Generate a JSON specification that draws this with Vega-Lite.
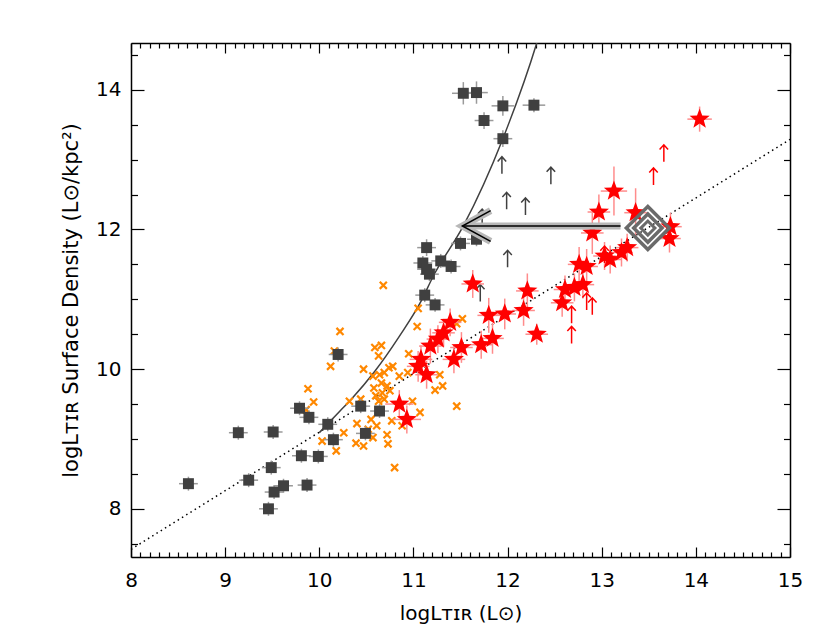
{
  "$schema": "https://vega.github.io/schema/vega-lite/v6.json",
  "autosize": {"type": "none"},
  "padding": {"left": 131, "top": 43, "right": 40, "bottom": 85},
  "width": 659,
  "height": 514,
  "background": "white",
  "config": {
    "view": {"stroke": null},
    "font": "DejaVu Sans",
    "axis": {"domainColor": "black", "domainWidth": 1.5, "tickColor": "black", "tickWidth": 1.2, "grid": false, "labelFont": "DejaVu Sans", "labelFontSize": 20, "labelColor": "black", "labelFontWeight": "normal", "titleFont": "DejaVu Sans", "titleFontSize": 20, "titleFontWeight": "normal", "titleColor": "black", "labelOverlap": false, "labelFlush": false}
  },
  "datasets": {
    "squares": [
      {"x": 8.61, "y": 8.36, "ex": 0.1, "ey": 0.1},
      {"x": 9.14, "y": 9.09, "ex": 0.1, "ey": 0.1},
      {"x": 9.51, "y": 9.10, "ex": 0.1, "ey": 0.1},
      {"x": 9.25, "y": 8.41, "ex": 0.1, "ey": 0.1},
      {"x": 9.49, "y": 8.59, "ex": 0.1, "ey": 0.1},
      {"x": 9.52, "y": 8.24, "ex": 0.1, "ey": 0.1},
      {"x": 9.62, "y": 8.33, "ex": 0.1, "ey": 0.1},
      {"x": 9.46, "y": 8.00, "ex": 0.1, "ey": 0.1},
      {"x": 9.87, "y": 8.34, "ex": 0.1, "ey": 0.1},
      {"x": 9.81, "y": 8.76, "ex": 0.1, "ey": 0.1},
      {"x": 9.99, "y": 8.75, "ex": 0.1, "ey": 0.1},
      {"x": 9.79, "y": 9.44, "ex": 0.1, "ey": 0.1},
      {"x": 9.89, "y": 9.31, "ex": 0.1, "ey": 0.1},
      {"x": 10.09, "y": 9.21, "ex": 0.1, "ey": 0.1},
      {"x": 10.15, "y": 8.99, "ex": 0.1, "ey": 0.1},
      {"x": 10.20, "y": 10.21, "ex": 0.1, "ey": 0.1},
      {"x": 10.44, "y": 9.47, "ex": 0.1, "ey": 0.1},
      {"x": 10.64, "y": 9.40, "ex": 0.1, "ey": 0.1},
      {"x": 10.49, "y": 9.08, "ex": 0.1, "ey": 0.1},
      {"x": 11.12, "y": 11.06, "ex": 0.1, "ey": 0.1},
      {"x": 11.23, "y": 10.92, "ex": 0.1, "ey": 0.1},
      {"x": 11.53, "y": 13.95, "ex": 0.12, "ey": 0.16},
      {"x": 11.67, "y": 13.96, "ex": 0.12, "ey": 0.16},
      {"x": 11.95, "y": 13.77, "ex": 0.12, "ey": 0.14},
      {"x": 12.28, "y": 13.78, "ex": 0.12, "ey": 0.1},
      {"x": 11.75, "y": 13.56, "ex": 0.1, "ey": 0.12},
      {"x": 11.95, "y": 13.30, "ex": 0.1, "ey": 0.12},
      {"x": 11.50, "y": 11.80, "ex": 0.1, "ey": 0.1},
      {"x": 11.67, "y": 11.86, "ex": 0.1, "ey": 0.1},
      {"x": 11.14, "y": 11.74, "ex": 0.1, "ey": 0.12},
      {"x": 11.29, "y": 11.55, "ex": 0.1, "ey": 0.1},
      {"x": 11.40, "y": 11.47, "ex": 0.1, "ey": 0.1},
      {"x": 11.10, "y": 11.52, "ex": 0.1, "ey": 0.1},
      {"x": 11.14, "y": 11.43, "ex": 0.1, "ey": 0.1},
      {"x": 11.17, "y": 11.36, "ex": 0.1, "ey": 0.1}
    ],
    "crosses": [
      {"x": 10.68, "y": 11.20}, {"x": 10.22, "y": 10.54}, {"x": 10.16, "y": 10.26}, {"x": 10.12, "y": 10.04},
      {"x": 9.88, "y": 9.72}, {"x": 9.94, "y": 9.53}, {"x": 9.86, "y": 9.42}, {"x": 10.03, "y": 8.97},
      {"x": 10.18, "y": 8.83}, {"x": 10.26, "y": 9.09}, {"x": 10.32, "y": 9.54}, {"x": 10.44, "y": 9.57},
      {"x": 10.40, "y": 9.22}, {"x": 10.39, "y": 8.94}, {"x": 10.47, "y": 8.90}, {"x": 10.55, "y": 9.28},
      {"x": 10.61, "y": 9.19}, {"x": 10.57, "y": 9.02}, {"x": 10.72, "y": 9.06}, {"x": 10.77, "y": 9.26},
      {"x": 10.73, "y": 8.93}, {"x": 10.80, "y": 8.59}, {"x": 10.59, "y": 10.31}, {"x": 10.66, "y": 10.34},
      {"x": 10.63, "y": 10.19}, {"x": 10.47, "y": 10.00}, {"x": 10.57, "y": 9.90}, {"x": 10.64, "y": 9.92},
      {"x": 10.69, "y": 9.95}, {"x": 10.74, "y": 10.02}, {"x": 10.78, "y": 10.04}, {"x": 10.85, "y": 9.90},
      {"x": 10.66, "y": 9.80}, {"x": 10.72, "y": 9.76}, {"x": 10.58, "y": 9.73}, {"x": 10.60, "y": 9.62},
      {"x": 10.67, "y": 9.66}, {"x": 10.63, "y": 9.54}, {"x": 10.75, "y": 9.69}, {"x": 10.95, "y": 10.22},
      {"x": 10.94, "y": 9.95}, {"x": 10.99, "y": 9.54}, {"x": 11.07, "y": 9.38}, {"x": 10.88, "y": 9.19},
      {"x": 11.05, "y": 10.87}, {"x": 11.04, "y": 10.61}, {"x": 11.28, "y": 9.92}, {"x": 11.23, "y": 9.70},
      {"x": 11.31, "y": 9.76}, {"x": 11.46, "y": 9.47}, {"x": 11.52, "y": 10.72}, {"x": 11.46, "y": 10.65},
      {"x": 10.52, "y": 9.14}, {"x": 10.69, "y": 9.57}
    ],
    "stars": [
      {"x": 10.85, "y": 9.50, "ex": 0.15, "ey": 0.2},
      {"x": 10.93, "y": 9.28, "ex": 0.15, "ey": 0.2},
      {"x": 11.05, "y": 10.04, "ex": 0.12, "ey": 0.22},
      {"x": 11.08, "y": 10.14, "ex": 0.12, "ey": 0.2},
      {"x": 11.14, "y": 9.92, "ex": 0.12, "ey": 0.2},
      {"x": 11.18, "y": 10.33, "ex": 0.12, "ey": 0.25},
      {"x": 11.26, "y": 10.43, "ex": 0.12, "ey": 0.2},
      {"x": 11.32, "y": 10.52, "ex": 0.12, "ey": 0.2},
      {"x": 11.39, "y": 10.67, "ex": 0.12, "ey": 0.2},
      {"x": 11.43, "y": 10.14, "ex": 0.12, "ey": 0.2},
      {"x": 11.51, "y": 10.31, "ex": 0.12, "ey": 0.22},
      {"x": 11.63, "y": 11.22, "ex": 0.12, "ey": 0.2},
      {"x": 11.72, "y": 10.35, "ex": 0.12, "ey": 0.2},
      {"x": 11.84, "y": 10.44, "ex": 0.12, "ey": 0.22},
      {"x": 11.80, "y": 10.77, "ex": 0.12, "ey": 0.25},
      {"x": 11.97, "y": 10.79, "ex": 0.12, "ey": 0.22},
      {"x": 12.17, "y": 10.84, "ex": 0.12, "ey": 0.22},
      {"x": 12.21, "y": 11.12, "ex": 0.12, "ey": 0.25},
      {"x": 12.31, "y": 10.50, "ex": 0.12, "ey": 0.15},
      {"x": 12.58, "y": 10.95, "ex": 0.12, "ey": 0.2},
      {"x": 12.61, "y": 11.14, "ex": 0.12, "ey": 0.2},
      {"x": 12.71, "y": 11.17, "ex": 0.12, "ey": 0.2},
      {"x": 12.80, "y": 11.21, "ex": 0.12, "ey": 0.2},
      {"x": 12.76, "y": 11.50, "ex": 0.12, "ey": 0.25},
      {"x": 12.84, "y": 11.47, "ex": 0.12, "ey": 0.25},
      {"x": 12.90, "y": 11.95, "ex": 0.12, "ey": 0.3},
      {"x": 12.97, "y": 12.25, "ex": 0.12, "ey": 0.25},
      {"x": 13.03, "y": 11.62, "ex": 0.12, "ey": 0.2},
      {"x": 13.09, "y": 11.57, "ex": 0.12, "ey": 0.2},
      {"x": 13.21, "y": 11.67, "ex": 0.12, "ey": 0.2},
      {"x": 13.27, "y": 11.74, "ex": 0.12, "ey": 0.2},
      {"x": 13.36, "y": 12.24, "ex": 0.12, "ey": 0.35},
      {"x": 13.13, "y": 12.55, "ex": 0.14, "ey": 0.35},
      {"x": 13.73, "y": 12.04, "ex": 0.12, "ey": 0.2},
      {"x": 13.72, "y": 11.87, "ex": 0.12, "ey": 0.2},
      {"x": 14.04, "y": 13.58, "ex": 0.13, "ey": 0.18}
    ],
    "grayArrows": [
      {"x": 11.94, "y": 12.92}, {"x": 12.46, "y": 12.77}, {"x": 11.99, "y": 12.41}, {"x": 12.19, "y": 12.33},
      {"x": 11.73, "y": 12.17}, {"x": 12.00, "y": 11.58}, {"x": 11.71, "y": 11.09}
    ],
    "redArrows": [
      {"x": 12.68, "y": 10.78}, {"x": 12.68, "y": 10.49}, {"x": 12.84, "y": 10.97}, {"x": 12.90, "y": 10.90},
      {"x": 13.03, "y": 11.64}, {"x": 13.55, "y": 12.76}, {"x": 13.66, "y": 13.09}
    ],
    "curve": [
      {"x": 10.00, "y": 9.09}, {"x": 10.22, "y": 9.40}, {"x": 10.34, "y": 9.57}, {"x": 10.59, "y": 9.97},
      {"x": 10.85, "y": 10.47}, {"x": 11.08, "y": 10.97}, {"x": 11.21, "y": 11.33}, {"x": 11.53, "y": 12.05},
      {"x": 11.95, "y": 13.30}, {"x": 12.31, "y": 14.67}, {"x": 12.35, "y": 14.85}
    ],
    "fit": [{"x": 8.0, "y": 7.42}, {"x": 15.0, "y": 13.29}],
    "bigArrow": [
      {"seg": "head", "o": 1, "x": 11.82, "y": 12.27},
      {"seg": "head", "o": 2, "x": 11.52, "y": 12.05},
      {"seg": "head", "o": 3, "x": 11.82, "y": 11.83},
      {"seg": "shaft", "o": 1, "x": 11.52, "y": 12.05},
      {"seg": "shaft", "o": 2, "x": 13.20, "y": 12.05}
    ],
    "diamond": [{"x": 13.49, "y": 12.02}]
  },
  "encoding": {
    "x": {"field": "x", "type": "quantitative", "scale": {"domain": [8, 15], "nice": false, "zero": false}, "axis": null},
    "y": {"field": "y", "type": "quantitative", "scale": {"domain": [7.31, 14.67], "nice": false, "zero": false}, "axis": null}
  },
  "resolve": {"axis": {"x": "independent", "y": "independent"}},
  "layer": [
    {
      "data": {"name": "fit"},
      "mark": {"type": "line", "color": "black", "strokeWidth": 1.5, "strokeDash": [1.5, 3.5], "clip": true},
      "encoding": {
        "x": {"field": "x", "type": "quantitative", "scale": {"domain": [8, 15], "nice": false, "zero": false},
          "axis": {"orient": "bottom", "title": "logLᴛɪʀ (L⊙)", "titlePadding": 8,
            "values": [8,8.1,8.2,8.3,8.4,8.5,8.6,8.7,8.8,8.9,9,9.1,9.2,9.3,9.4,9.5,9.6,9.7,9.8,9.9,10,10.1,10.2,10.3,10.4,10.5,10.6,10.7,10.8,10.9,11,11.1,11.2,11.3,11.4,11.5,11.6,11.7,11.8,11.9,12,12.1,12.2,12.3,12.4,12.5,12.6,12.7,12.8,12.9,13,13.1,13.2,13.3,13.4,13.5,13.6,13.7,13.8,13.9,14,14.1,14.2,14.3,14.4,14.5,14.6,14.7,14.8,14.9,15],
            "labelExpr": "datum.value % 1 === 0 ? format(datum.value, 'd') : ''",
            "labelPadding": 23,
            "tickSize": {"condition": {"test": "datum.value % 1 === 0", "value": -10}, "value": -5}}},
        "y": {"field": "y", "type": "quantitative", "scale": {"domain": [7.31, 14.67], "nice": false, "zero": false},
          "axis": {"orient": "left", "title": "logLᴛɪʀ Surface Density (L⊙/kpc²)", "titlePadding": 14, "titleFontSize": 21,
            "values": [7.5,8,8.5,9,9.5,10,10.5,11,11.5,12,12.5,13,13.5,14,14.5],
            "labelExpr": "datum.value % 2 === 0 ? format(datum.value, 'd') : ''",
            "labelPadding": 23,
            "tickSize": {"condition": {"test": "datum.value % 2 === 0", "value": -13}, "value": -6.5}}}
      }
    },
    {
      "data": {"name": "curve"},
      "mark": {"type": "line", "color": "#404040", "strokeWidth": 1.5, "interpolate": "monotone", "clip": true},
      "encoding": {
        "x": {"field": "x", "type": "quantitative", "scale": {"domain": [8, 15], "nice": false, "zero": false},
          "axis": {"orient": "top", "title": null, "labels": false,
            "values": [8,8.1,8.2,8.3,8.4,8.5,8.6,8.7,8.8,8.9,9,9.1,9.2,9.3,9.4,9.5,9.6,9.7,9.8,9.9,10,10.1,10.2,10.3,10.4,10.5,10.6,10.7,10.8,10.9,11,11.1,11.2,11.3,11.4,11.5,11.6,11.7,11.8,11.9,12,12.1,12.2,12.3,12.4,12.5,12.6,12.7,12.8,12.9,13,13.1,13.2,13.3,13.4,13.5,13.6,13.7,13.8,13.9,14,14.1,14.2,14.3,14.4,14.5,14.6,14.7,14.8,14.9,15],
            "tickSize": {"condition": {"test": "datum.value % 1 === 0", "value": -10}, "value": -5}}},
        "y": {"field": "y", "type": "quantitative", "scale": {"domain": [7.31, 14.67], "nice": false, "zero": false},
          "axis": {"orient": "right", "title": null, "labels": false,
            "values": [7.5,8,8.5,9,9.5,10,10.5,11,11.5,12,12.5,13,13.5,14,14.5],
            "tickSize": {"condition": {"test": "datum.value % 2 === 0", "value": -13}, "value": -6.5}}}
      }
    },
    {
      "data": {"name": "crosses"},
      "mark": {"type": "point", "shape": "M-1,-1L1,1M-1,1L1,-1", "filled": false, "color": "#ff8800", "strokeWidth": 2.2, "size": 50, "opacity": 1}
    },
    {
      "data": {"name": "squares"},
      "mark": {"type": "errorbar", "color": "#9a9a9a", "thickness": 1.5},
      "encoding": {"xError": {"field": "ex"}}
    },
    {
      "data": {"name": "squares"},
      "mark": {"type": "errorbar", "color": "#9a9a9a", "thickness": 1.5},
      "encoding": {"yError": {"field": "ey"}}
    },
    {
      "data": {"name": "squares"},
      "mark": {"type": "point", "shape": "square", "filled": true, "color": "#404040", "size": 120, "opacity": 1}
    },
    {
      "data": {"name": "grayArrows"},
      "mark": {"type": "point", "shape": "M0,1L0,-1M-0.5,-0.45L0,-1L0.5,-0.45", "filled": false, "color": "#404040", "strokeWidth": 1.5, "size": 290, "opacity": 1}
    },
    {
      "data": {"name": "stars"},
      "mark": {"type": "errorbar", "color": "#ff8c8c", "thickness": 1.5},
      "encoding": {"xError": {"field": "ex"}}
    },
    {
      "data": {"name": "stars"},
      "mark": {"type": "errorbar", "color": "#ff8c8c", "thickness": 1.5},
      "encoding": {"yError": {"field": "ey"}}
    },
    {
      "data": {"name": "stars"},
      "mark": {"type": "point", "shape": "M0,-1L0.247,-0.34L0.951,-0.309L0.399,0.13L0.588,0.809L0,0.42L-0.588,0.809L-0.399,0.13L-0.951,-0.309L-0.247,-0.34Z", "filled": true, "color": "#ff0000", "size": 450, "opacity": 1}
    },
    {
      "data": {"name": "redArrows"},
      "mark": {"type": "point", "shape": "M0,1L0,-1M-0.5,-0.45L0,-1L0.5,-0.45", "filled": false, "color": "#ff0000", "strokeWidth": 1.5, "size": 290, "opacity": 1}
    },
    {
      "data": {"name": "bigArrow"},
      "mark": {"type": "line", "color": "#b8b8b8", "strokeWidth": 7, "strokeCap": "butt", "strokeJoin": "miter"},
      "encoding": {"detail": {"field": "seg"}, "order": {"field": "o", "type": "quantitative"}}
    },
    {
      "data": {"name": "bigArrow"},
      "mark": {"type": "line", "color": "black", "strokeWidth": 1.5},
      "encoding": {"detail": {"field": "seg"}, "order": {"field": "o", "type": "quantitative"}}
    },
    {
      "data": {"name": "diamond"},
      "mark": {"type": "point", "shape": "diamond", "filled": false, "color": "#6a6a6a", "strokeWidth": 3.5, "size": 1850, "opacity": 1}
    },
    {
      "data": {"name": "diamond"},
      "mark": {"type": "point", "shape": "diamond", "filled": false, "color": "#6a6a6a", "strokeWidth": 3.5, "size": 800, "opacity": 1}
    },
    {
      "data": {"name": "diamond"},
      "mark": {"type": "point", "shape": "diamond", "filled": false, "color": "#6a6a6a", "strokeWidth": 3, "size": 200, "opacity": 1}
    }
  ]
}
